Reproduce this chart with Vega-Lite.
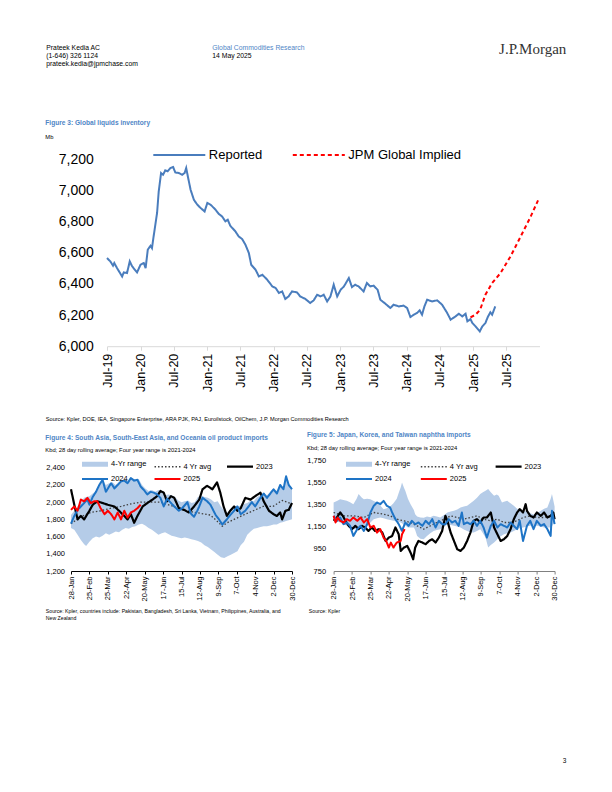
{
  "$schema": "https://vega.github.io/schema/vega-lite/v6.json",
  "background": "white",
  "padding": {"left": 45, "top": 41, "right": 0, "bottom": 0},
  "config": {
    "view": {"stroke": null},
    "font": "Liberation Sans",
    "axis": {"grid": false, "labelFont": "Liberation Sans", "titleFont": "Liberation Sans", "labelFlush": false, "labelOverlap": false},
    "legend": {"labelFont": "Liberation Sans"},
    "title": {"font": "Liberation Sans"}
  },
  "datasets": {
    "inv": [
      {"date":"2019-07-01","series":"Reported","value":6565},{"date":"2019-07-19","series":"Reported","value":6544},{"date":"2019-08-03","series":"Reported","value":6516},{"date":"2019-08-10","series":"Reported","value":6533},{"date":"2019-08-25","series":"Reported","value":6501},{"date":"2019-09-22","series":"Reported","value":6447},{"date":"2019-10-01","series":"Reported","value":6473},{"date":"2019-10-19","series":"Reported","value":6469},{"date":"2019-11-03","series":"Reported","value":6544},{"date":"2019-11-16","series":"Reported","value":6512},{"date":"2019-12-13","series":"Reported","value":6473},{"date":"2020-01-01","series":"Reported","value":6522},{"date":"2020-01-19","series":"Reported","value":6533},{"date":"2020-01-29","series":"Reported","value":6501},{"date":"2020-02-10","series":"Reported","value":6619},{"date":"2020-02-25","series":"Reported","value":6644},{"date":"2020-03-04","series":"Reported","value":6629},{"date":"2020-03-13","series":"Reported","value":6704},{"date":"2020-04-01","series":"Reported","value":6854},{"date":"2020-04-10","series":"Reported","value":6992},{"date":"2020-04-23","series":"Reported","value":7110},{"date":"2020-05-04","series":"Reported","value":7099},{"date":"2020-05-16","series":"Reported","value":7127},{"date":"2020-05-29","series":"Reported","value":7121},{"date":"2020-06-13","series":"Reported","value":7142},{"date":"2020-06-28","series":"Reported","value":7149},{"date":"2020-07-10","series":"Reported","value":7114},{"date":"2020-07-29","series":"Reported","value":7110},{"date":"2020-08-17","series":"Reported","value":7099},{"date":"2020-08-30","series":"Reported","value":7110},{"date":"2020-09-08","series":"Reported","value":7142},{"date":"2020-09-17","series":"Reported","value":7088},{"date":"2020-10-02","series":"Reported","value":7003},{"date":"2020-10-20","series":"Reported","value":6939},{"date":"2020-11-08","series":"Reported","value":6907},{"date":"2020-11-26","series":"Reported","value":6886},{"date":"2020-12-18","series":"Reported","value":6864},{"date":"2021-01-02","series":"Reported","value":6918},{"date":"2021-01-20","series":"Reported","value":6907},{"date":"2021-02-16","series":"Reported","value":6875},{"date":"2021-03-05","series":"Reported","value":6849},{"date":"2021-03-24","series":"Reported","value":6832},{"date":"2021-04-11","series":"Reported","value":6800},{"date":"2021-04-24","series":"Reported","value":6811},{"date":"2021-05-08","series":"Reported","value":6772},{"date":"2021-06-05","series":"Reported","value":6736},{"date":"2021-06-23","series":"Reported","value":6704},{"date":"2021-07-12","series":"Reported","value":6687},{"date":"2021-07-30","series":"Reported","value":6651},{"date":"2021-08-18","series":"Reported","value":6597},{"date":"2021-08-31","series":"Reported","value":6522},{"date":"2021-09-24","series":"Reported","value":6490},{"date":"2021-10-12","series":"Reported","value":6447},{"date":"2021-10-31","series":"Reported","value":6458},{"date":"2021-11-27","series":"Reported","value":6426},{"date":"2021-12-25","series":"Reported","value":6383},{"date":"2022-01-12","series":"Reported","value":6373},{"date":"2022-01-30","series":"Reported","value":6341},{"date":"2022-02-17","series":"Reported","value":6351},{"date":"2022-03-06","series":"Reported","value":6303},{"date":"2022-03-24","series":"Reported","value":6319},{"date":"2022-04-12","series":"Reported","value":6351},{"date":"2022-05-09","series":"Reported","value":6345},{"date":"2022-05-27","series":"Reported","value":6319},{"date":"2022-06-24","series":"Reported","value":6303},{"date":"2022-07-21","series":"Reported","value":6277},{"date":"2022-08-09","series":"Reported","value":6294},{"date":"2022-08-28","series":"Reported","value":6330},{"date":"2022-09-15","series":"Reported","value":6319},{"date":"2022-10-03","series":"Reported","value":6330},{"date":"2022-10-22","series":"Reported","value":6287},{"date":"2022-11-09","series":"Reported","value":6319},{"date":"2022-11-27","series":"Reported","value":6394},{"date":"2022-12-16","series":"Reported","value":6319},{"date":"2023-01-04","series":"Reported","value":6362},{"date":"2023-01-22","series":"Reported","value":6383},{"date":"2023-02-18","series":"Reported","value":6437},{"date":"2023-03-07","series":"Reported","value":6379},{"date":"2023-03-25","series":"Reported","value":6394},{"date":"2023-04-13","series":"Reported","value":6383},{"date":"2023-05-10","series":"Reported","value":6351},{"date":"2023-05-28","series":"Reported","value":6405},{"date":"2023-06-16","series":"Reported","value":6383},{"date":"2023-07-04","series":"Reported","value":6388},{"date":"2023-07-26","series":"Reported","value":6362},{"date":"2023-08-10","series":"Reported","value":6298},{"date":"2023-09-07","series":"Reported","value":6272},{"date":"2023-10-04","series":"Reported","value":6245},{"date":"2023-10-22","series":"Reported","value":6266},{"date":"2023-11-19","series":"Reported","value":6255},{"date":"2023-12-16","series":"Reported","value":6260},{"date":"2024-01-04","series":"Reported","value":6245},{"date":"2024-01-22","series":"Reported","value":6187},{"date":"2024-02-10","series":"Reported","value":6202},{"date":"2024-02-28","series":"Reported","value":6213},{"date":"2024-03-13","series":"Reported","value":6230},{"date":"2024-03-26","series":"Reported","value":6202},{"date":"2024-04-08","series":"Reported","value":6255},{"date":"2024-04-23","series":"Reported","value":6298},{"date":"2024-05-20","series":"Reported","value":6287},{"date":"2024-06-17","series":"Reported","value":6294},{"date":"2024-07-14","series":"Reported","value":6266},{"date":"2024-08-11","series":"Reported","value":6213},{"date":"2024-08-30","series":"Reported","value":6170},{"date":"2024-09-26","series":"Reported","value":6191},{"date":"2024-10-14","series":"Reported","value":6208},{"date":"2024-11-02","series":"Reported","value":6191},{"date":"2024-11-20","series":"Reported","value":6208},{"date":"2024-11-30","series":"Reported","value":6159},{"date":"2024-12-17","series":"Reported","value":6174},{"date":"2024-12-27","series":"Reported","value":6149},{"date":"2025-01-14","series":"Reported","value":6127},{"date":"2025-02-06","series":"Reported","value":6095},{"date":"2025-02-20","series":"Reported","value":6127},{"date":"2025-03-09","series":"Reported","value":6149},{"date":"2025-03-22","series":"Reported","value":6187},{"date":"2025-04-05","series":"Reported","value":6217},{"date":"2025-04-15","series":"Reported","value":6202},{"date":"2025-05-02","series":"Reported","value":6255},
      {"date":"2024-12-17","series":"JPM Global Implied","value":6185},{"date":"2025-01-14","series":"JPM Global Implied","value":6202},{"date":"2025-02-08","series":"JPM Global Implied","value":6234},{"date":"2025-03-09","series":"JPM Global Implied","value":6330},{"date":"2025-04-15","series":"JPM Global Implied","value":6405},{"date":"2025-05-31","series":"JPM Global Implied","value":6469},{"date":"2025-07-25","series":"JPM Global Implied","value":6576},{"date":"2025-09-19","series":"JPM Global Implied","value":6704},{"date":"2025-11-13","series":"JPM Global Implied","value":6832},{"date":"2025-12-23","series":"JPM Global Implied","value":6935}
    ],
    "c4band": [
      {"doy":28,"lo":1700,"hi":1850},{"doy":33,"lo":1680,"hi":1900},{"doy":38,"lo":1620,"hi":1950},{"doy":43,"lo":1560,"hi":2000},{"doy":48,"lo":1510,"hi":2050},{"doy":51,"lo":1490,"hi":2060},{"doy":56,"lo":1540,"hi":2070},{"doy":61,"lo":1580,"hi":2100},{"doy":66,"lo":1600,"hi":2130},{"doy":71,"lo":1590,"hi":2200},{"doy":76,"lo":1610,"hi":2260},{"doy":81,"lo":1640,"hi":2200},{"doy":86,"lo":1620,"hi":2220},{"doy":91,"lo":1640,"hi":2230},{"doy":96,"lo":1660,"hi":2200},{"doy":101,"lo":1650,"hi":2240},{"doy":106,"lo":1680,"hi":2250},{"doy":111,"lo":1700,"hi":2260},{"doy":116,"lo":1690,"hi":2250},{"doy":121,"lo":1710,"hi":2280},{"doy":126,"lo":1720,"hi":2260},{"doy":131,"lo":1740,"hi":2270},{"doy":136,"lo":1750,"hi":2200},{"doy":141,"lo":1730,"hi":2160},{"doy":146,"lo":1700,"hi":2130},{"doy":151,"lo":1680,"hi":2140},{"doy":156,"lo":1650,"hi":2120},{"doy":161,"lo":1620,"hi":2140},{"doy":166,"lo":1640,"hi":2130},{"doy":171,"lo":1650,"hi":2080},{"doy":176,"lo":1630,"hi":2090},{"doy":181,"lo":1610,"hi":2080},{"doy":186,"lo":1600,"hi":2060},{"doy":191,"lo":1590,"hi":2020},{"doy":196,"lo":1580,"hi":2000},{"doy":201,"lo":1590,"hi":2010},{"doy":206,"lo":1580,"hi":2020},{"doy":211,"lo":1570,"hi":1990},{"doy":216,"lo":1560,"hi":2000},{"doy":221,"lo":1550,"hi":2060},{"doy":226,"lo":1530,"hi":2080},{"doy":231,"lo":1500,"hi":2060},{"doy":236,"lo":1480,"hi":2050},{"doy":241,"lo":1450,"hi":2030},{"doy":246,"lo":1420,"hi":2000},{"doy":251,"lo":1390,"hi":2010},{"doy":256,"lo":1360,"hi":1950},{"doy":261,"lo":1350,"hi":1900},{"doy":266,"lo":1370,"hi":1880},{"doy":271,"lo":1390,"hi":1920},{"doy":276,"lo":1410,"hi":1950},{"doy":281,"lo":1430,"hi":1960},{"doy":286,"lo":1500,"hi":1950},{"doy":291,"lo":1540,"hi":1980},{"doy":296,"lo":1620,"hi":1990},{"doy":301,"lo":1660,"hi":2020},{"doy":306,"lo":1690,"hi":2010},{"doy":311,"lo":1700,"hi":2060},{"doy":316,"lo":1710,"hi":2080},{"doy":321,"lo":1720,"hi":2110},{"doy":326,"lo":1720,"hi":2080},{"doy":331,"lo":1730,"hi":2120},{"doy":336,"lo":1740,"hi":2160},{"doy":341,"lo":1740,"hi":2130},{"doy":346,"lo":1760,"hi":2210},{"doy":351,"lo":1770,"hi":2170},{"doy":355,"lo":1780,"hi":2310},{"doy":359,"lo":1790,"hi":2220},{"doy":364,"lo":1800,"hi":2160}
    ],
    "c4lines": [
      {"doy":28,"series":"4 Yr avg","value":1750},{"doy":43,"series":"4 Yr avg","value":1830},{"doy":58,"series":"4 Yr avg","value":1880},{"doy":73,"series":"4 Yr avg","value":1900},{"doy":89,"series":"4 Yr avg","value":1930},{"doy":104,"series":"4 Yr avg","value":1950},{"doy":119,"series":"4 Yr avg","value":1980},{"doy":134,"series":"4 Yr avg","value":2000},{"doy":149,"series":"4 Yr avg","value":2000},{"doy":164,"series":"4 Yr avg","value":2000},{"doy":180,"series":"4 Yr avg","value":1960},{"doy":195,"series":"4 Yr avg","value":1920},{"doy":210,"series":"4 Yr avg","value":1890},{"doy":225,"series":"4 Yr avg","value":1870},{"doy":240,"series":"4 Yr avg","value":1850},{"doy":250,"series":"4 Yr avg","value":1780},{"doy":258,"series":"4 Yr avg","value":1720},{"doy":265,"series":"4 Yr avg","value":1760},{"doy":276,"series":"4 Yr avg","value":1800},{"doy":290,"series":"4 Yr avg","value":1850},{"doy":305,"series":"4 Yr avg","value":1900},{"doy":320,"series":"4 Yr avg","value":1950},{"doy":335,"series":"4 Yr avg","value":1950},{"doy":349,"series":"4 Yr avg","value":2020},{"doy":364,"series":"4 Yr avg","value":1980},
      {"doy":28,"series":"2023","value":2150},{"doy":33,"series":"2023","value":1970},{"doy":38,"series":"2023","value":1800},{"doy":43,"series":"2023","value":1840},{"doy":48,"series":"2023","value":1800},{"doy":56,"series":"2023","value":1900},{"doy":61,"series":"2023","value":1970},{"doy":68,"series":"2023","value":2010},{"doy":76,"series":"2023","value":1990},{"doy":84,"series":"2023","value":1970},{"doy":94,"series":"2023","value":1950},{"doy":101,"series":"2023","value":1900},{"doy":109,"series":"2023","value":1840},{"doy":114,"series":"2023","value":1800},{"doy":119,"series":"2023","value":1860},{"doy":124,"series":"2023","value":1760},{"doy":129,"series":"2023","value":1840},{"doy":137,"series":"2023","value":1950},{"doy":144,"series":"2023","value":1990},{"doy":152,"series":"2023","value":2030},{"doy":159,"series":"2023","value":2070},{"doy":164,"series":"2023","value":2130},{"doy":169,"series":"2023","value":2110},{"doy":174,"series":"2023","value":2010},{"doy":180,"series":"2023","value":2070},{"doy":185,"series":"2023","value":2050},{"doy":192,"series":"2023","value":1930},{"doy":200,"series":"2023","value":1910},{"doy":207,"series":"2023","value":1880},{"doy":215,"series":"2023","value":1950},{"doy":223,"series":"2023","value":2030},{"doy":228,"series":"2023","value":2150},{"doy":235,"series":"2023","value":2190},{"doy":243,"series":"2023","value":2150},{"doy":250,"series":"2023","value":2230},{"doy":255,"series":"2023","value":2110},{"doy":260,"series":"2023","value":1950},{"doy":265,"series":"2023","value":1840},{"doy":270,"series":"2023","value":1900},{"doy":276,"series":"2023","value":1950},{"doy":281,"series":"2023","value":1900},{"doy":286,"series":"2023","value":1930},{"doy":293,"series":"2023","value":2050},{"doy":301,"series":"2023","value":2030},{"doy":308,"series":"2023","value":2070},{"doy":316,"series":"2023","value":2110},{"doy":321,"series":"2023","value":2010},{"doy":329,"series":"2023","value":1900},{"doy":336,"series":"2023","value":1860},{"doy":341,"series":"2023","value":1840},{"doy":346,"series":"2023","value":1880},{"doy":349,"series":"2023","value":1800},{"doy":354,"series":"2023","value":1900},{"doy":359,"series":"2023","value":1910},{"doy":364,"series":"2023","value":1990},
      {"doy":28,"series":"2024","value":1750},{"doy":33,"series":"2024","value":1840},{"doy":38,"series":"2024","value":1910},{"doy":43,"series":"2024","value":1950},{"doy":48,"series":"2024","value":1990},{"doy":53,"series":"2024","value":2030},{"doy":56,"series":"2024","value":1970},{"doy":61,"series":"2024","value":2060},{"doy":66,"series":"2024","value":2120},{"doy":71,"series":"2024","value":2200},{"doy":76,"series":"2024","value":2260},{"doy":81,"series":"2024","value":2120},{"doy":89,"series":"2024","value":2220},{"doy":94,"series":"2024","value":2160},{"doy":99,"series":"2024","value":2200},{"doy":104,"series":"2024","value":2240},{"doy":109,"series":"2024","value":2250},{"doy":114,"series":"2024","value":2220},{"doy":119,"series":"2024","value":2280},{"doy":124,"series":"2024","value":2250},{"doy":129,"series":"2024","value":2260},{"doy":134,"series":"2024","value":2180},{"doy":139,"series":"2024","value":2140},{"doy":144,"series":"2024","value":2090},{"doy":149,"series":"2024","value":2120},{"doy":154,"series":"2024","value":2110},{"doy":159,"series":"2024","value":2090},{"doy":164,"series":"2024","value":2050},{"doy":169,"series":"2024","value":1950},{"doy":174,"series":"2024","value":2040},{"doy":180,"series":"2024","value":1990},{"doy":185,"series":"2024","value":1950},{"doy":192,"series":"2024","value":1900},{"doy":197,"series":"2024","value":1930},{"doy":205,"series":"2024","value":2000},{"doy":210,"series":"2024","value":1870},{"doy":215,"series":"2024","value":1830},{"doy":220,"series":"2024","value":1900},{"doy":223,"series":"2024","value":1950},{"doy":228,"series":"2024","value":2050},{"doy":235,"series":"2024","value":2010},{"doy":240,"series":"2024","value":1970},{"doy":248,"series":"2024","value":1850},{"doy":253,"series":"2024","value":1800},{"doy":258,"series":"2024","value":1740},{"doy":265,"series":"2024","value":1800},{"doy":270,"series":"2024","value":1850},{"doy":276,"series":"2024","value":1900},{"doy":281,"series":"2024","value":1950},{"doy":286,"series":"2024","value":1860},{"doy":293,"series":"2024","value":1900},{"doy":298,"series":"2024","value":1950},{"doy":303,"series":"2024","value":2000},{"doy":308,"series":"2024","value":1950},{"doy":316,"series":"2024","value":2050},{"doy":321,"series":"2024","value":2100},{"doy":326,"series":"2024","value":2050},{"doy":331,"series":"2024","value":2100},{"doy":336,"series":"2024","value":2150},{"doy":341,"series":"2024","value":2100},{"doy":346,"series":"2024","value":2200},{"doy":351,"series":"2024","value":2150},{"doy":355,"series":"2024","value":2300},{"doy":359,"series":"2024","value":2200},{"doy":364,"series":"2024","value":2150},
      {"doy":28,"series":"2025","value":1910},{"doy":33,"series":"2025","value":1950},{"doy":38,"series":"2025","value":1900},{"doy":43,"series":"2025","value":2030},{"doy":48,"series":"2025","value":2010},{"doy":53,"series":"2025","value":2050},{"doy":58,"series":"2025","value":1990},{"doy":63,"series":"2025","value":2010},{"doy":68,"series":"2025","value":2010},{"doy":73,"series":"2025","value":1930},{"doy":79,"series":"2025","value":1860},{"doy":84,"series":"2025","value":1900},{"doy":89,"series":"2025","value":1860},{"doy":94,"series":"2025","value":1800},{"doy":99,"series":"2025","value":1880},{"doy":104,"series":"2025","value":1800},{"doy":109,"series":"2025","value":1900},{"doy":114,"series":"2025","value":1820},{"doy":119,"series":"2025","value":1880},{"doy":124,"series":"2025","value":1900},{"doy":129,"series":"2025","value":1930},{"doy":134,"series":"2025","value":1970}
    ],
    "c5band": [
      {"doy":28,"lo":1202,"hi":1367},{"doy":33,"lo":1195,"hi":1380},{"doy":38,"lo":1187,"hi":1397},{"doy":43,"lo":1172,"hi":1390},{"doy":48,"lo":1157,"hi":1382},{"doy":53,"lo":1140,"hi":1370},{"doy":58,"lo":1127,"hi":1352},{"doy":63,"lo":1127,"hi":1400},{"doy":66,"lo":1127,"hi":1443},{"doy":71,"lo":1135,"hi":1410},{"doy":74,"lo":1145,"hi":1397},{"doy":79,"lo":1157,"hi":1400},{"doy":84,"lo":1187,"hi":1397},{"doy":89,"lo":1217,"hi":1380},{"doy":94,"lo":1225,"hi":1367},{"doy":99,"lo":1232,"hi":1340},{"doy":104,"lo":1225,"hi":1307},{"doy":109,"lo":1217,"hi":1315},{"doy":114,"lo":1210,"hi":1330},{"doy":119,"lo":1202,"hi":1360},{"doy":124,"lo":1195,"hi":1400},{"doy":128,"lo":1190,"hi":1470},{"doy":130,"lo":1187,"hi":1503},{"doy":132,"lo":1180,"hi":1548},{"doy":135,"lo":1165,"hi":1500},{"doy":137,"lo":1160,"hi":1473},{"doy":141,"lo":1142,"hi":1400},{"doy":145,"lo":1142,"hi":1352},{"doy":150,"lo":1142,"hi":1300},{"doy":152,"lo":1120,"hi":1262},{"doy":155,"lo":1066,"hi":1240},{"doy":160,"lo":1040,"hi":1232},{"doy":165,"lo":1036,"hi":1230},{"doy":170,"lo":1066,"hi":1240},{"doy":175,"lo":1090,"hi":1235},{"doy":180,"lo":1111,"hi":1247},{"doy":185,"lo":1120,"hi":1240},{"doy":190,"lo":1127,"hi":1232},{"doy":196,"lo":1150,"hi":1255},{"doy":201,"lo":1172,"hi":1277},{"doy":206,"lo":1165,"hi":1285},{"doy":211,"lo":1157,"hi":1292},{"doy":216,"lo":1150,"hi":1305},{"doy":221,"lo":1142,"hi":1322},{"doy":226,"lo":1125,"hi":1330},{"doy":231,"lo":1111,"hi":1337},{"doy":236,"lo":1100,"hi":1360},{"doy":241,"lo":1096,"hi":1382},{"doy":246,"lo":1110,"hi":1410},{"doy":251,"lo":1127,"hi":1443},{"doy":255,"lo":1090,"hi":1460},{"doy":259,"lo":1051,"hi":1473},{"doy":263,"lo":961,"hi":1488},{"doy":267,"lo":985,"hi":1460},{"doy":272,"lo":1006,"hi":1428},{"doy":276,"lo":1030,"hi":1440},{"doy":279,"lo":1051,"hi":1428},{"doy":284,"lo":1070,"hi":1367},{"doy":287,"lo":1081,"hi":1375},{"doy":292,"lo":1090,"hi":1382},{"doy":297,"lo":1096,"hi":1360},{"doy":302,"lo":1110,"hi":1337},{"doy":307,"lo":1127,"hi":1310},{"doy":311,"lo":1135,"hi":1292},{"doy":316,"lo":1142,"hi":1280},{"doy":322,"lo":1150,"hi":1300},{"doy":327,"lo":1157,"hi":1270},{"doy":332,"lo":1157,"hi":1260},{"doy":337,"lo":1157,"hi":1270},{"doy":343,"lo":1150,"hi":1292},{"doy":348,"lo":1142,"hi":1310},{"doy":353,"lo":1142,"hi":1322},{"doy":358,"lo":1142,"hi":1400},{"doy":360,"lo":1150,"hi":1443},{"doy":364,"lo":1202,"hi":1330}
    ],
    "c5lines": [
      {"doy":28,"series":"4 Yr avg","value":1277},{"doy":43,"series":"4 Yr avg","value":1247},{"doy":58,"series":"4 Yr avg","value":1247},{"doy":74,"series":"4 Yr avg","value":1232},{"doy":89,"series":"4 Yr avg","value":1277},{"doy":104,"series":"4 Yr avg","value":1262},{"doy":114,"series":"4 Yr avg","value":1247},{"doy":124,"series":"4 Yr avg","value":1217},{"doy":135,"series":"4 Yr avg","value":1202},{"doy":145,"series":"4 Yr avg","value":1187},{"doy":155,"series":"4 Yr avg","value":1157},{"doy":165,"series":"4 Yr avg","value":1127},{"doy":175,"series":"4 Yr avg","value":1157},{"doy":185,"series":"4 Yr avg","value":1187},{"doy":196,"series":"4 Yr avg","value":1217},{"doy":206,"series":"4 Yr avg","value":1247},{"doy":216,"series":"4 Yr avg","value":1232},{"doy":226,"series":"4 Yr avg","value":1217},{"doy":236,"series":"4 Yr avg","value":1232},{"doy":246,"series":"4 Yr avg","value":1247},{"doy":256,"series":"4 Yr avg","value":1217},{"doy":267,"series":"4 Yr avg","value":1202},{"doy":277,"series":"4 Yr avg","value":1217},{"doy":287,"series":"4 Yr avg","value":1187},{"doy":297,"series":"4 Yr avg","value":1187},{"doy":307,"series":"4 Yr avg","value":1202},{"doy":316,"series":"4 Yr avg","value":1232},{"doy":327,"series":"4 Yr avg","value":1247},{"doy":337,"series":"4 Yr avg","value":1232},{"doy":348,"series":"4 Yr avg","value":1232},{"doy":358,"series":"4 Yr avg","value":1247},{"doy":364,"series":"4 Yr avg","value":1232},
      {"doy":28,"series":"2023","value":1202},{"doy":33,"series":"2023","value":1232},{"doy":38,"series":"2023","value":1277},{"doy":42,"series":"2023","value":1247},{"doy":46,"series":"2023","value":1202},{"doy":51,"series":"2023","value":1157},{"doy":56,"series":"2023","value":1127},{"doy":61,"series":"2023","value":1157},{"doy":66,"series":"2023","value":1127},{"doy":71,"series":"2023","value":1157},{"doy":76,"series":"2023","value":1142},{"doy":81,"series":"2023","value":1111},{"doy":86,"series":"2023","value":1142},{"doy":91,"series":"2023","value":1111},{"doy":97,"series":"2023","value":1127},{"doy":102,"series":"2023","value":1096},{"doy":107,"series":"2023","value":1021},{"doy":112,"series":"2023","value":1051},{"doy":117,"series":"2023","value":1066},{"doy":122,"series":"2023","value":1142},{"doy":127,"series":"2023","value":1081},{"doy":130,"series":"2023","value":931},{"doy":135,"series":"2023","value":961},{"doy":140,"series":"2023","value":976},{"doy":145,"series":"2023","value":916},{"doy":149,"series":"2023","value":855},{"doy":152,"series":"2023","value":961},{"doy":157,"series":"2023","value":1021},{"doy":163,"series":"2023","value":1006},{"doy":168,"series":"2023","value":991},{"doy":173,"series":"2023","value":1021},{"doy":178,"series":"2023","value":1036},{"doy":183,"series":"2023","value":1006},{"doy":188,"series":"2023","value":1051},{"doy":193,"series":"2023","value":1111},{"doy":198,"series":"2023","value":1247},{"doy":201,"series":"2023","value":1202},{"doy":206,"series":"2023","value":1096},{"doy":211,"series":"2023","value":1021},{"doy":216,"series":"2023","value":946},{"doy":221,"series":"2023","value":931},{"doy":226,"series":"2023","value":961},{"doy":231,"series":"2023","value":1021},{"doy":236,"series":"2023","value":1096},{"doy":241,"series":"2023","value":1202},{"doy":246,"series":"2023","value":1217},{"doy":251,"series":"2023","value":1187},{"doy":256,"series":"2023","value":1232},{"doy":261,"series":"2023","value":1232},{"doy":267,"series":"2023","value":1277},{"doy":272,"series":"2023","value":1142},{"doy":277,"series":"2023","value":1081},{"doy":282,"series":"2023","value":1021},{"doy":287,"series":"2023","value":1036},{"doy":292,"series":"2023","value":1066},{"doy":297,"series":"2023","value":1127},{"doy":302,"series":"2023","value":1217},{"doy":307,"series":"2023","value":1277},{"doy":311,"series":"2023","value":1307},{"doy":316,"series":"2023","value":1277},{"doy":320,"series":"2023","value":1352},{"doy":322,"series":"2023","value":1292},{"doy":327,"series":"2023","value":1247},{"doy":332,"series":"2023","value":1232},{"doy":337,"series":"2023","value":1277},{"doy":343,"series":"2023","value":1247},{"doy":348,"series":"2023","value":1277},{"doy":353,"series":"2023","value":1232},{"doy":358,"series":"2023","value":1247},{"doy":362,"series":"2023","value":1277},{"doy":364,"series":"2023","value":1217},
      {"doy":28,"series":"2024","value":1247},{"doy":33,"series":"2024","value":1202},{"doy":38,"series":"2024","value":1232},{"doy":43,"series":"2024","value":1172},{"doy":48,"series":"2024","value":1187},{"doy":53,"series":"2024","value":1157},{"doy":58,"series":"2024","value":1066},{"doy":64,"series":"2024","value":1127},{"doy":69,"series":"2024","value":1157},{"doy":74,"series":"2024","value":1111},{"doy":79,"series":"2024","value":1172},{"doy":84,"series":"2024","value":1277},{"doy":89,"series":"2024","value":1337},{"doy":94,"series":"2024","value":1367},{"doy":99,"series":"2024","value":1352},{"doy":104,"series":"2024","value":1382},{"doy":109,"series":"2024","value":1337},{"doy":114,"series":"2024","value":1322},{"doy":117,"series":"2024","value":1277},{"doy":122,"series":"2024","value":1217},{"doy":127,"series":"2024","value":1172},{"doy":132,"series":"2024","value":1111},{"doy":137,"series":"2024","value":1187},{"doy":142,"series":"2024","value":1157},{"doy":147,"series":"2024","value":1202},{"doy":152,"series":"2024","value":1172},{"doy":157,"series":"2024","value":1187},{"doy":163,"series":"2024","value":1157},{"doy":168,"series":"2024","value":1202},{"doy":173,"series":"2024","value":1172},{"doy":178,"series":"2024","value":1217},{"doy":183,"series":"2024","value":1142},{"doy":188,"series":"2024","value":1202},{"doy":193,"series":"2024","value":1172},{"doy":198,"series":"2024","value":1172},{"doy":203,"series":"2024","value":1217},{"doy":208,"series":"2024","value":1187},{"doy":213,"series":"2024","value":1202},{"doy":218,"series":"2024","value":1157},{"doy":223,"series":"2024","value":1277},{"doy":226,"series":"2024","value":1172},{"doy":231,"series":"2024","value":1187},{"doy":236,"series":"2024","value":1172},{"doy":241,"series":"2024","value":1202},{"doy":246,"series":"2024","value":1157},{"doy":251,"series":"2024","value":1202},{"doy":256,"series":"2024","value":1142},{"doy":261,"series":"2024","value":1051},{"doy":267,"series":"2024","value":1157},{"doy":272,"series":"2024","value":1202},{"doy":277,"series":"2024","value":1142},{"doy":282,"series":"2024","value":1172},{"doy":287,"series":"2024","value":1157},{"doy":292,"series":"2024","value":1142},{"doy":297,"series":"2024","value":1187},{"doy":302,"series":"2024","value":1157},{"doy":307,"series":"2024","value":1127},{"doy":311,"series":"2024","value":1202},{"doy":316,"series":"2024","value":1021},{"doy":322,"series":"2024","value":1157},{"doy":327,"series":"2024","value":1202},{"doy":332,"series":"2024","value":1127},{"doy":337,"series":"2024","value":1202},{"doy":343,"series":"2024","value":1157},{"doy":348,"series":"2024","value":1172},{"doy":353,"series":"2024","value":1127},{"doy":358,"series":"2024","value":1066},{"doy":360,"series":"2024","value":1292},{"doy":364,"series":"2024","value":1172},
      {"doy":28,"series":"2025","value":1247},{"doy":31,"series":"2025","value":1187},{"doy":34,"series":"2025","value":1232},{"doy":38,"series":"2025","value":1202},{"doy":43,"series":"2025","value":1187},{"doy":48,"series":"2025","value":1217},{"doy":53,"series":"2025","value":1202},{"doy":58,"series":"2025","value":1232},{"doy":64,"series":"2025","value":1202},{"doy":69,"series":"2025","value":1232},{"doy":74,"series":"2025","value":1187},{"doy":79,"series":"2025","value":1217},{"doy":84,"series":"2025","value":1142},{"doy":89,"series":"2025","value":1157},{"doy":94,"series":"2025","value":1096},{"doy":99,"series":"2025","value":1127},{"doy":104,"series":"2025","value":1051},{"doy":108,"series":"2025","value":1021},{"doy":112,"series":"2025","value":961},{"doy":115,"series":"2025","value":1006},{"doy":119,"series":"2025","value":961},{"doy":124,"series":"2025","value":1006},{"doy":130,"series":"2025","value":1021},{"doy":132,"series":"2025","value":1081},{"doy":136,"series":"2025","value":1127}
    ]
  },
  "bounds": "flush",
  "spacing": 0,
  "resolve": {
    "scale": {"color": "independent", "strokeDash": "independent", "strokeWidth": "independent"},
    "legend": {"color": "independent", "strokeDash": "independent", "strokeWidth": "independent"}
  },
  "vconcat": [
    {
      "hconcat": [
        {
          "width": 166, "height": 1, "data": {"values": []}, "mark": "point", "encoding": {},
          "title": {"text": ["Prateek Kedia AC", "(1-646) 326 1124", "prateek.kedia@jpmchase.com"], "orient": "bottom", "anchor": "start", "frame": "group", "baseline": "top", "offset": -2.1, "dx": -24.7, "fontSize": 6.8, "fontWeight": "normal", "lineHeight": 8, "color": "#000000"}
        },
        {
          "width": 200, "height": 1, "data": {"values": []}, "mark": "point", "encoding": {},
          "title": {"text": "Global Commodities Research", "subtitle": "14 May 2025", "orient": "bottom", "anchor": "start", "frame": "group", "baseline": "top", "offset": -2.1, "dx": -24.7, "fontSize": 6.8, "fontWeight": "normal", "color": "#4f86c6", "lineHeight": 8, "subtitleFont": "Liberation Sans", "subtitleFontSize": 6.8, "subtitleColor": "#000000", "subtitlePadding": 1.2}
        },
        {
          "width": 129.3, "height": 1, "data": {"values": []}, "mark": "point", "encoding": {},
          "title": {"text": "J.P.Morgan", "orient": "bottom", "anchor": "end", "frame": "group", "baseline": "top", "offset": -5.3, "font": "Liberation Serif", "fontSize": 15, "fontWeight": "normal", "color": "#333333"}
        }
      ],
      "spacing": 0,
      "bounds": "flush"
    },
    {"width": 1, "height": 113, "data": {"values": []}, "mark": "point", "encoding": {}},
    {
      "hconcat": [
        {"width": 36, "height": 1, "data": {"values": []}, "mark": "point", "encoding": {}},
        {
          "width": 432.5, "height": 187.2,
          "data": {"name": "inv"},
          "title": {"text": "Figure 3: Global liquids inventory", "subtitle": "Mb", "anchor": "start", "frame": "group", "dx": -61.7, "offset": 12, "fontSize": 6.6, "fontWeight": "bold", "color": "#4f86c6", "subtitleFont": "Liberation Sans", "subtitleFontSize": 5.8, "subtitleColor": "#000000", "subtitlePadding": 7.5},
          "mark": {"type": "line", "strokeWidth": 2},
          "encoding": {
            "x": {
              "field": "date", "type": "temporal",
              "scale": {"type": "utc", "domain": [{"year": 2019, "month": 7, "date": 1, "utc": true}, {"year": 2025, "month": 12, "date": 31, "utc": true}]},
              "axis": {
                "values": [{"year": 2019, "month": 7, "date": 1, "utc": true}, {"year": 2020, "month": 1, "date": 1, "utc": true}, {"year": 2020, "month": 7, "date": 1, "utc": true}, {"year": 2021, "month": 1, "date": 1, "utc": true}, {"year": 2021, "month": 7, "date": 1, "utc": true}, {"year": 2022, "month": 1, "date": 1, "utc": true}, {"year": 2022, "month": 7, "date": 1, "utc": true}, {"year": 2023, "month": 1, "date": 1, "utc": true}, {"year": 2023, "month": 7, "date": 1, "utc": true}, {"year": 2024, "month": 1, "date": 1, "utc": true}, {"year": 2024, "month": 7, "date": 1, "utc": true}, {"year": 2025, "month": 1, "date": 1, "utc": true}, {"year": 2025, "month": 7, "date": 1, "utc": true}],
                "format": "%b-%y", "labelAngle": -90, "labelFontSize": 12.5, "labelColor": "#000000", "labelPadding": 3, "tickSize": 4, "tickColor": "#d9d9d9", "domainColor": "#d9d9d9",
                "title": "Source: Kpler, DOE, IEA, Singapore Enterprise, ARA PJK, PAJ, Euroilstock, OilChem, J.P. Morgan Commodities Research",
                "titleX": -61.7, "titleY": 72.5, "titleAnchor": "start", "titleAlign": "left", "titleBaseline": "middle", "titleFontSize": 5.6, "titleFontWeight": "normal", "titleColor": "#000000"
              }
            },
            "y": {
              "field": "value", "type": "quantitative",
              "scale": {"domain": [6000, 7200], "zero": false, "nice": false},
              "axis": {"values": [6000, 6200, 6400, 6600, 6800, 7000, 7200], "format": ",.0f", "labelFontSize": 14, "labelColor": "#000000", "labelPadding": 13.7, "ticks": false, "domain": false, "title": null}
            },
            "color": {
              "field": "series", "type": "nominal",
              "scale": {"domain": ["Reported", "JPM Global Implied"], "range": ["#4a7dbd", "#ff0000"]},
              "legend": {"orient": "none", "legendX": 101.8, "legendY": -10.8, "direction": "horizontal", "title": null, "symbolType": "M-5.2,0H5.2", "symbolSize": 100, "symbolStrokeWidth": 2, "labelFontSize": 13, "labelColor": "#000000", "labelOffset": 23, "columnPadding": 25.5, "padding": 0, "labelLimit": 0}
            },
            "strokeDash": {
              "field": "series", "type": "nominal",
              "scale": {"domain": ["Reported", "JPM Global Implied"], "range": [[1, 0], [4, 3]]}
            }
          }
        }
      ],
      "spacing": 0,
      "bounds": "flush"
    },
    {"width": 1, "height": 300.2, "data": {"values": []}, "mark": "point", "encoding": {}},
    {
      "hconcat": [
        {
          "width": 221, "height": 111,
          "title": {"text": "Figure 4: South Asia, South-East Asia, and Oceania oil product imports", "subtitle": "Kbd; 28 day rolling average; Four year range is 2021-2024", "anchor": "start", "frame": "group", "dx": -25.7, "offset": 5.5, "fontSize": 6.6, "fontWeight": "bold", "color": "#4f86c6", "subtitleFont": "Liberation Sans", "subtitleFontSize": 5.8, "subtitleColor": "#000000", "subtitlePadding": 6},
          "encoding": {
            "x": {
              "field": "doy", "type": "quantitative",
              "scale": {"domain": [28, 364], "zero": false, "nice": false},
              "axis": {
                "values": [28, 56, 84, 112, 140, 168, 196, 224, 252, 280, 308, 336, 364],
                "labelExpr": "timeFormat(datetime(2023, 0, datum.value), '%-d-%b')",
                "labelAngle": -90, "labelFontSize": 7.5, "labelColor": "#000000", "labelPadding": 2, "tickSize": 3, "tickColor": "#000000", "domainColor": "#000000",
                "title": ["Source: Kpler, countries include: Pakistan, Bangladesh, Sri Lanka, Vietnam, Philippines, Australia, and", "New Zealand"],
                "titleX": -25.7, "titleY": 37.5, "titleAnchor": "start", "titleAlign": "left", "titleBaseline": "top", "titleFontSize": 5.2, "titleLineHeight": 7, "titleFontWeight": "normal", "titleColor": "#000000"
              }
            }
          },
          "layer": [
            {
              "data": {"name": "c4band"},
              "mark": {"type": "area", "color": "#b5cce8", "opacity": 1},
              "encoding": {
                "y": {"field": "lo", "type": "quantitative", "scale": {"domain": [1200, 2490], "zero": false, "nice": false}, "axis": {"values": [1200, 1400, 1600, 1800, 2000, 2200, 2400], "format": ",.0f", "labelFontSize": 7.5, "labelColor": "#000000", "labelPadding": 6.5, "ticks": false, "domain": false, "title": null}},
                "y2": {"field": "hi"}
              }
            },
            {
              "data": {"name": "c4lines"},
              "mark": {"type": "line", "strokeJoin": "round"},
              "encoding": {
                "y": {"field": "value", "type": "quantitative", "scale": {"domain": [1200, 2490], "zero": false, "nice": false}, "axis": {"values": [1200, 1400, 1600, 1800, 2000, 2200, 2400], "format": ",.0f", "labelFontSize": 7.5, "labelColor": "#000000", "labelPadding": 6.5, "ticks": false, "domain": false, "title": null}},
                "color": {
                  "field": "series", "type": "nominal",
                  "scale": {"domain": ["4-Yr range", "4 Yr avg", "2023", "2024", "2025"], "range": ["#b5cce8", "#404040", "#000000", "#1e74c6", "#ff0000"]},
                  "legend": {"orient": "none", "legendX": 18.5, "legendY": -1.5, "direction": "horizontal", "columns": 3, "gridAlign": "all", "title": null, "symbolType": "M-4.33,0H4.33", "symbolSize": 36, "labelFontSize": 7.5, "labelColor": "#000000", "labelOffset": 10.5, "columnPadding": 3.5, "rowPadding": 0.5, "padding": 0, "labelLimit": 0}
                },
                "strokeDash": {"field": "series", "type": "nominal", "scale": {"domain": ["4-Yr range", "4 Yr avg", "2023", "2024", "2025"], "range": [[1, 0], [1.5, 2], [1, 0], [1, 0], [1, 0]]}},
                "strokeWidth": {"field": "series", "type": "nominal", "scale": {"type": "ordinal", "domain": ["4-Yr range", "4 Yr avg", "2023", "2024", "2025"], "range": [5, 1.3, 2.2, 2, 2]}}
              }
            }
          ]
        },
        {
          "width": 221, "height": 111,
          "title": {"text": "Figure 5: Japan, Korea, and Taiwan naphtha imports", "subtitle": "Kbd; 28 day rolling average; Four year range is 2021-2024", "anchor": "start", "frame": "group", "dx": -26.6, "offset": 5.5, "fontSize": 6.6, "fontWeight": "bold", "color": "#4f86c6", "subtitleFont": "Liberation Sans", "subtitleFontSize": 5.8, "subtitleColor": "#000000", "subtitlePadding": 6},
          "encoding": {
            "x": {
              "field": "doy", "type": "quantitative",
              "scale": {"domain": [28, 364], "zero": false, "nice": false},
              "axis": {
                "values": [28, 56, 84, 112, 140, 168, 196, 224, 252, 280, 308, 336, 364],
                "labelExpr": "timeFormat(datetime(2023, 0, datum.value), '%-d-%b')",
                "labelAngle": -90, "labelFontSize": 7.5, "labelColor": "#000000", "labelPadding": 2, "tickSize": 3, "tickColor": "#808080", "domainColor": "#808080",
                "title": "Source: Kpler",
                "titleX": -25.3, "titleY": 37.5, "titleAnchor": "start", "titleAlign": "left", "titleBaseline": "top", "titleFontSize": 5.2, "titleFontWeight": "normal", "titleColor": "#000000"
              }
            }
          },
          "layer": [
            {
              "data": {"name": "c5band"},
              "mark": {"type": "area", "color": "#b5cce8", "opacity": 1},
              "encoding": {
                "y": {"field": "lo", "type": "quantitative", "scale": {"domain": [750, 1750], "zero": false, "nice": false}, "axis": {"values": [750, 950, 1150, 1350, 1550, 1750], "format": ",.0f", "labelFontSize": 7.5, "labelColor": "#000000", "labelPadding": 8, "ticks": false, "domain": false, "title": null}},
                "y2": {"field": "hi"}
              }
            },
            {
              "data": {"name": "c5lines"},
              "mark": {"type": "line", "strokeJoin": "round"},
              "encoding": {
                "y": {"field": "value", "type": "quantitative", "scale": {"domain": [750, 1750], "zero": false, "nice": false}, "axis": {"values": [750, 950, 1150, 1350, 1550, 1750], "format": ",.0f", "labelFontSize": 7.5, "labelColor": "#000000", "labelPadding": 8, "ticks": false, "domain": false, "title": null}},
                "color": {
                  "field": "series", "type": "nominal",
                  "scale": {"domain": ["4-Yr range", "4 Yr avg", "2023", "2024", "2025"], "range": ["#b5cce8", "#404040", "#000000", "#1e74c6", "#ff0000"]},
                  "legend": {"orient": "none", "legendX": 19.9, "legendY": -1.5, "direction": "horizontal", "columns": 3, "gridAlign": "all", "title": null, "symbolType": "M-4.33,0H4.33", "symbolSize": 36, "labelFontSize": 7.5, "labelColor": "#000000", "labelOffset": 10.5, "columnPadding": 5.8, "rowPadding": 0.5, "padding": 0, "labelLimit": 0}
                },
                "strokeDash": {"field": "series", "type": "nominal", "scale": {"domain": ["4-Yr range", "4 Yr avg", "2023", "2024", "2025"], "range": [[1, 0], [1.5, 2], [1, 0], [1, 0], [1, 0]]}},
                "strokeWidth": {"field": "series", "type": "nominal", "scale": {"type": "ordinal", "domain": ["4-Yr range", "4 Yr avg", "2023", "2024", "2025"], "range": [5, 1.3, 2.2, 2, 2]}}
              }
            }
          ]
        }
      ],
      "spacing": 41.6,
      "bounds": "flush",
      "resolve": {
        "scale": {"color": "independent", "strokeDash": "independent", "strokeWidth": "independent"},
        "legend": {"color": "independent", "strokeDash": "independent", "strokeWidth": "independent"}
      }
    },
    {
      "width": 495.3, "height": 297.5, "data": {"values": []}, "mark": "point", "encoding": {},
      "title": {"text": "3", "orient": "bottom", "anchor": "end", "frame": "group", "baseline": "top", "offset": 0, "fontSize": 6.5, "fontWeight": "normal", "color": "#000000"}
    }
  ]
}
